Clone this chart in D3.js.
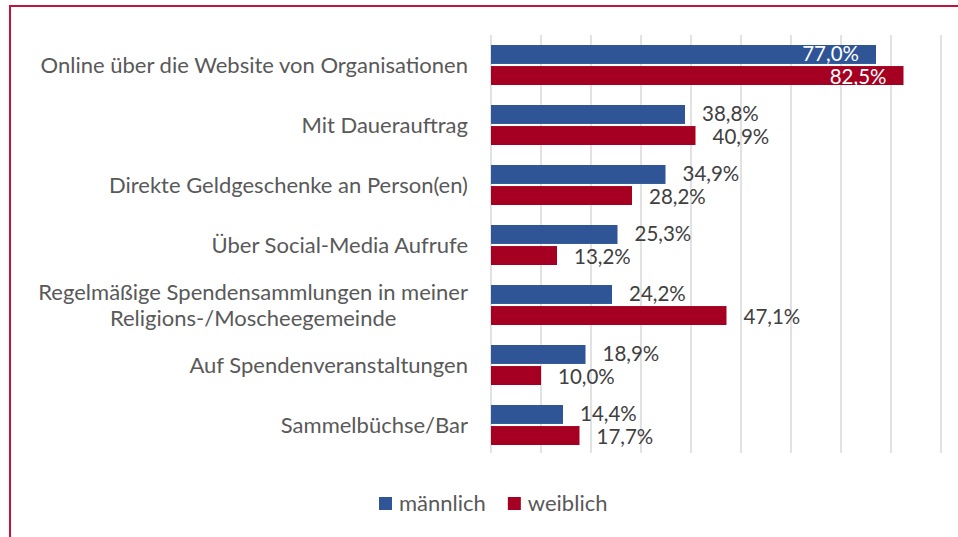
<!DOCTYPE html>
<html>
<head>
<meta charset="utf-8">
<script src="https://cdn.jsdelivr.net/npm/d3@7"></script>
<style>
  html, body { margin: 0; padding: 0; background: #fff; }
  svg { display: block; }
  text { font-family: Lato, "Open Sans", sans-serif; }
</style>
</head>
<body>
<div id="chart"></div>
<script>
// Daten
const categories = [
    ["Online über die Website von Organisationen"],
    ["Mit Dauerauftrag"],
    ["Direkte Geldgeschenke an Person(en)"],
    ["Über Social-Media Aufrufe"],
    ["Regelmäßige Spendensammlungen in meiner", "Religions-/Moscheegemeinde"],
    ["Auf Spendenveranstaltungen"],
    ["Sammelbüchse/Bar"]
];
const seriesNames = ["männlich", "weiblich"];
const maennlich = [77.0, 38.8, 34.9, 25.3, 24.2, 18.9, 14.4];
const weiblich = [82.5, 40.9, 28.2, 13.2, 47.1, 10.0, 17.7];
const xTicks = [0, 10, 20, 30, 40, 50, 60, 70, 80, 90];

const colors = ["#2F5597", "#A50021"];
const width = 958, height = 537;

const svg = d3.select("#chart").append("svg")
    .attr("width", width)
    .attr("height", height);

// Rahmen (oben + links)
svg.append("path")
    .attr("d", `M10,${height} L10,6 L${width},6`)
    .attr("fill", "none")
    .attr("stroke", "#C0143C")
    .attr("stroke-width", 2);

const x = d3.scaleLinear().domain([0, 90]).range([491, 941]);
const y = d3.scaleBand().domain(d3.range(categories.length)).range([35, 455]);
const ySub = d3.scaleBand().domain([0, 1]).range([10, 50]).paddingInner(0.1);

// Gitter
svg.append("g").selectAll("line")
    .data(xTicks)
    .join("line")
    .attr("x1", d => x(d)).attr("x2", d => x(d))
    .attr("y1", 35).attr("y2", 453)
    .attr("stroke", "#D9D9D9")
    .attr("stroke-width", 1.5);

const series = [maennlich, weiblich];
const labelSize = 20.5;
const catSize = 22;

series.forEach((vals, s) => {
    const g = svg.append("g");
    g.selectAll("rect")
        .data(vals)
        .join("rect")
        .attr("x", x(0))
        .attr("y", (d, i) => y(i) + ySub(s))
        .attr("width", d => x(d) - x(0))
        .attr("height", ySub.bandwidth())
        .attr("fill", colors[s]);

    // Beschriftungen leicht auseinander, damit sie sich nicht berühren
    g.selectAll("text")
        .data(vals)
        .join("text")
        .attr("x", (d, i) => i === 0 ? x(d) - 17 : x(d) + 17)
        .attr("y", (d, i) => y(i) + ySub(s) + ySub.bandwidth() / 2 + (s === 0 ? -1 : 1))
        .attr("dy", "0.36em")
        .attr("text-anchor", (d, i) => i === 0 ? "end" : "start")
        .attr("fill", (d, i) => i === 0 ? "#fff" : "#404040")
        .style("font-size", labelSize + "px")
        .text(d => d.toFixed(1).replace(".", ",") + "%");
});

// Kategorien
const catG = svg.append("g");
categories.forEach((lines, i) => {
    const cy = y(i) + y.bandwidth() / 2;
    const t = catG.append("text")
        .attr("fill", "#595959")
        .attr("text-anchor", "middle")
        .style("font-size", catSize + "px");
    lines.forEach((ln, j) => {
        t.append("tspan")
            .attr("y", cy + (j - (lines.length - 1) / 2) * 26)
            .attr("dy", "0.36em")
            .text(ln);
    });
    let maxW = 0;
    t.selectAll("tspan").each(function () {
        maxW = Math.max(maxW, this.getComputedTextLength());
    });
    t.selectAll("tspan").attr("x", 468 - maxW / 2);
});

// Legende
const leg = svg.append("g");
let lx = 379;
seriesNames.forEach((name, s) => {
    leg.append("rect")
        .attr("x", lx).attr("y", 497)
        .attr("width", 13).attr("height", 13)
        .attr("fill", colors[s]);
    const t = leg.append("text")
        .attr("x", lx + 20).attr("y", 503.5)
        .attr("dy", "0.36em")
        .attr("fill", "#595959")
        .style("font-size", catSize + "px")
        .text(name);
    lx += 20 + t.node().getComputedTextLength() + 22;
});
</script>
</body>
</html>
